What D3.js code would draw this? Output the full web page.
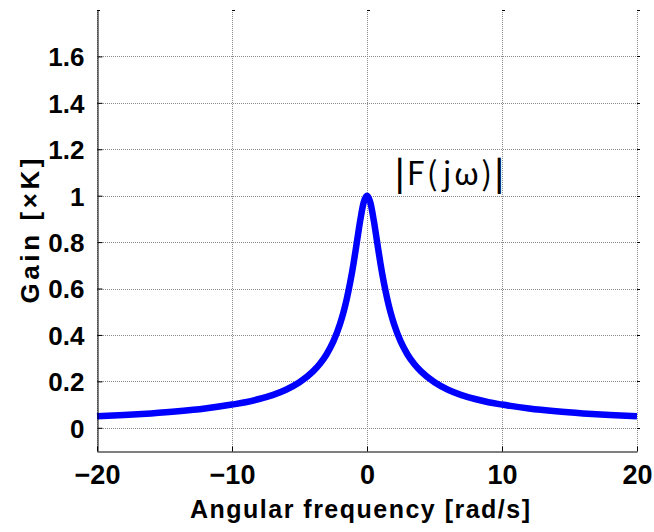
<!DOCTYPE html>
<html>
<head>
<meta charset="utf-8">
<script src="https://cdn.jsdelivr.net/npm/d3@7"></script>
<style>
  html, body { margin: 0; padding: 0; background: #fff; }
  svg { display: block; }
</style>
</head>
<body>
<svg id="chart" width="654" height="532"></svg>
<script>
// Data
const omega = [-20, -18, -16, -14, -12, -10, -9, -8, -7, -6, -5, -4, -3.5, -3, -2.5, -2, -1.75, -1.5, -1.25, -1, -0.75, -0.5, -0.25, 0,
               0.25, 0.5, 0.75, 1, 1.25, 1.5, 1.75, 2, 2.5, 3, 3.5, 4, 5, 6, 7, 8, 9, 10, 12, 14, 16, 18, 20];
const gain = [0.050, 0.055, 0.062, 0.071, 0.083, 0.100, 0.110, 0.124, 0.141, 0.164, 0.196, 0.243, 0.275, 0.316, 0.371, 0.447, 0.496, 0.555, 0.625, 0.707, 0.800, 0.894, 0.970, 1.000,
              0.970, 0.894, 0.800, 0.707, 0.625, 0.555, 0.496, 0.447, 0.371, 0.316, 0.275, 0.243, 0.196, 0.164, 0.141, 0.124, 0.110, 0.100, 0.083, 0.071, 0.062, 0.055, 0.050];
const xTicks = [-20, -10, 0, 10, 20];
const yTicks = [0, 0.2, 0.4, 0.6, 0.8, 1, 1.2, 1.4, 1.6];
const xLabel = "Angular frequency [rad/s]";
const yLabel = "Gain [×K]";
const annotation = { text: "F(jω)" };

const svg = d3.select("#chart");
const L = 97, R = 637, T = 10, B = 451;
const x = d3.scaleLinear().domain([-20, 20]).range([L, R]);
const y = d3.scaleLinear().domain([-0.1, 1.8]).range([B, T]);

const numFont = "'Liberation Sans', Arial, sans-serif";

// grid
const grid = svg.append("g");
grid.selectAll(".gx").data(xTicks).join("line")
  .attr("x1", d => x(d) + 0.5).attr("x2", d => x(d) + 0.5)
  .attr("y1", T).attr("y2", B)
  .attr("stroke", "#8a8a8a").attr("stroke-width", 1).attr("stroke-dasharray", "1,1");
grid.selectAll(".gy").data(yTicks).join("line")
  .attr("x1", L).attr("x2", R)
  .attr("y1", d => Math.round(y(d)) + 0.5).attr("y2", d => Math.round(y(d)) + 0.5)
  .attr("stroke", "#8a8a8a").attr("stroke-width", 1).attr("stroke-dasharray", "1,1");

// small marks at top and right ends
grid.selectAll(".tt").data(xTicks).join("line")
  .attr("x1", d => x(d)).attr("x2", d => x(d) + 3)
  .attr("y1", T + 0.5).attr("y2", T + 0.5)
  .attr("stroke", "#000").attr("stroke-width", 1);
grid.selectAll(".rt").data(yTicks).join("line")
  .attr("x1", R).attr("x2", R + 3)
  .attr("y1", d => Math.round(y(d)) + 0.5).attr("y2", d => Math.round(y(d)) + 0.5)
  .attr("stroke", "#000").attr("stroke-width", 1);

// curve
const pts = omega.map((w, i) => [w, gain[i]]);
svg.append("path")
  .datum(pts)
  .attr("fill", "none")
  .attr("stroke", "#0000ff")
  .attr("stroke-width", 6.5)
  .attr("stroke-linejoin", "round")
  .attr("d", d3.line().x(d => x(d[0])).y(d => y(d[1])).curve(d3.curveMonotoneX));

// axes
const xAxis = d3.axisBottom(x).tickValues(xTicks).tickSizeInner(-5).tickSizeOuter(0)
  .tickFormat(d => d < 0 ? "\u2212" + Math.abs(d) : String(d));
const gx = svg.append("g").attr("transform", `translate(0,${B + 0.5})`).call(xAxis);
gx.select(".domain").attr("stroke", "#000");
gx.selectAll(".tick line").attr("stroke", "#000");
gx.selectAll(".tick text").attr("font-family", numFont).attr("font-weight", "bold")
  .attr("font-size", 27).attr("fill", "#000").attr("y", 32).attr("dy", null);

const yAxis = d3.axisLeft(y).tickValues(yTicks).tickSizeInner(-5).tickSizeOuter(0)
  .tickFormat(d => String(d)).tickPadding(13);
const gy = svg.append("g").attr("transform", `translate(${L + 0.5},0)`).call(yAxis);
gy.select(".domain").attr("stroke", "#000");
gy.selectAll(".tick line").attr("stroke", "#000");
gy.selectAll(".tick text").attr("font-family", numFont).attr("font-weight", "bold")
  .attr("font-size", 26).attr("fill", "#000").attr("dy", "0.36em");

// labels
svg.append("text")
  .attr("x", 360).attr("y", 518)
  .attr("text-anchor", "middle")
  .attr("font-family", numFont).attr("font-weight", "bold").attr("font-size", 25)
  .attr("textLength", 340).attr("lengthAdjust", "spacing")
  .text(xLabel);

svg.append("text")
  .attr("transform", "translate(39,231) rotate(-90)")
  .attr("text-anchor", "middle")
  .attr("font-family", numFont).attr("font-weight", "bold").attr("font-size", 26)
  .attr("textLength", 145).attr("lengthAdjust", "spacing")
  .text(yLabel);

// annotation |F(jω)|
const ann = svg.append("text")
  .attr("x", 395).attr("y", 185)
  .attr("font-family", "'Noto Sans CJK JP', 'Noto Sans', sans-serif").attr("font-size", 32)
  .attr("textLength", 109).attr("lengthAdjust", "spacing");
ann.append("tspan").attr("font-weight", "bold").text("|");
ann.append("tspan").text(annotation.text);
ann.append("tspan").attr("font-weight", "bold").text("|");
</script>
</body>
</html>
